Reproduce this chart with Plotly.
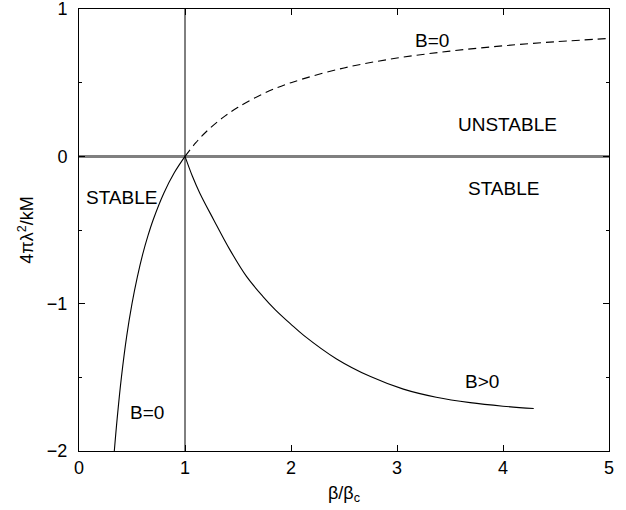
import plotly.graph_objects as go

# --- data ---
# B=0 branch, stable part (beta/beta_c < 1)
b0_stable_x = [0.333, 0.36, 0.4, 0.45, 0.5, 0.55, 0.6, 0.65, 0.7, 0.8, 0.9, 1.0]
b0_stable_y = [-2.0, -1.78, -1.5, -1.22, -1.0, -0.82, -0.667, -0.54, -0.43, -0.25, -0.11, 0.0]

# B=0 branch, unstable part (dashed, beta/beta_c > 1)
b0_unst_x = [1.0, 1.1, 1.2, 1.35, 1.5, 1.75, 2.0, 2.5, 3.0, 3.5, 4.0, 4.5, 5.0]
b0_unst_y = [0.0, 0.091, 0.167, 0.259, 0.333, 0.429, 0.5, 0.6, 0.667, 0.714, 0.75, 0.778, 0.8]

# B>0 branch
bpos_x = [1.0, 1.07, 1.14, 1.27, 1.42, 1.58, 1.74, 1.85, 2.0, 2.12, 2.43, 2.75, 3.06, 3.37, 3.69, 4.0, 4.29]
bpos_y = [0.0, -0.135, -0.25, -0.43, -0.63, -0.815, -0.955, -1.04, -1.14, -1.215, -1.375, -1.495,
          -1.58, -1.635, -1.672, -1.696, -1.712]

beta_c = 1.0  # vertical reference line

x_ticks = [0, 1, 2, 3, 4, 5]
y_ticks = [-2, -1, 0, 1]

labels_text = ["B=0", "UNSTABLE", "STABLE", "STABLE", "B=0", "B>0"]
labels_x = [3.33, 4.04, 4.0, 0.4, 0.645, 3.8]
labels_y = [0.785, 0.215, -0.215, -0.28, -1.74, -1.53]

FONT = "Liberation Sans, Arial, Helvetica, sans-serif"

fig = go.Figure()
line = dict(color="black", width=1.1, shape="spline", smoothing=1.0)
fig.add_trace(go.Scatter(x=b0_stable_x, y=b0_stable_y, mode="lines", line=line, showlegend=False))
fig.add_trace(go.Scatter(x=b0_unst_x, y=b0_unst_y, mode="lines",
                         line=dict(line, dash="8px,5px"), showlegend=False))
fig.add_trace(go.Scatter(x=bpos_x, y=bpos_y, mode="lines", line=line, showlegend=False))

fig.add_vline(x=beta_c, line=dict(color="black", width=1))

for t, x, y in zip(labels_text, labels_x, labels_y):
    fig.add_annotation(x=x, y=y, text=t, showarrow=False,
                       font=dict(family=FONT, size=19, color="black"))

axis_common = dict(
    showline=True, linecolor="black", linewidth=1, mirror="ticks",
    ticks="inside", ticklen=6, tickcolor="black", tickwidth=1,
    showgrid=False, automargin=False, ticklabeloverflow="allow",
    tickfont=dict(family=FONT, size=18, color="black"),
)

fig.update_xaxes(axis_common, range=[0, 5], tickvals=x_ticks, zeroline=False,
                 title=dict(text="β/β<sub>c</sub>", font=dict(family=FONT, size=18), standoff=9))
fig.update_yaxes(axis_common, range=[-2, 1], tickvals=y_ticks, ticklabelstandoff=7,
                 zeroline=True, zerolinecolor="#808080", zerolinewidth=2.5,
                 minor=dict(ticks="inside", ticklen=3, tickcolor="black", dtick=0.5, showgrid=False),
                 title=dict(text="4πλ<sup>2</sup>/kM", font=dict(family=FONT, size=18), standoff=8))

fig.update_layout(
    width=626, height=510,
    margin=dict(l=79, r=17, t=9, b=59),
    plot_bgcolor="white", paper_bgcolor="white",
    font=dict(family=FONT, size=18, color="black"),
)

fig.write_html("out.html", config={"displayModeBar": False},
               post_script="document.body.style.margin='0';document.body.style.overflow='hidden';")
